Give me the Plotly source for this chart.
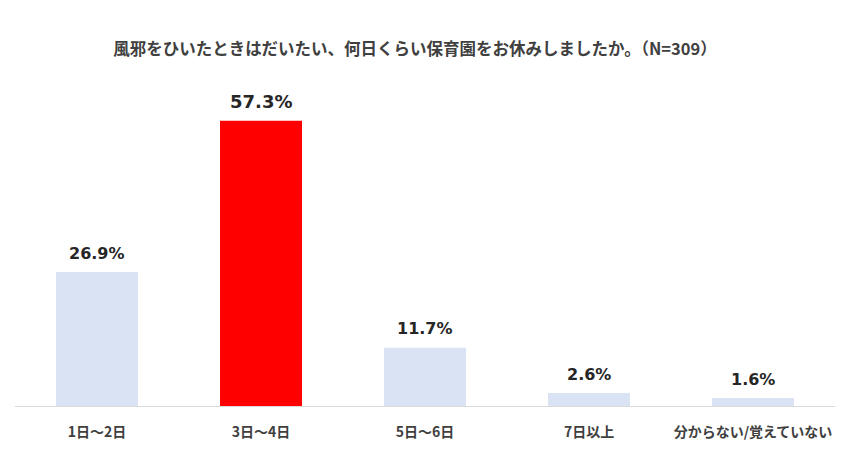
import plotly.graph_objects as go

categories = ["1日～2日", "3日～4日", "5日～6日", "7日以上", "分からない/覚えていない"]
values = [26.9, 57.3, 11.7, 2.6, 1.6]
highlight = "3日～4日"

light = "#dae3f3"
red = "#ff0000"
text_color = "#404040"
font_family = "DejaVu Sans, Noto Sans CJK JP, sans-serif"
jp_font = "Noto Sans CJK JP, sans-serif"

colors = [red if c == highlight else light for c in categories]

fig = go.Figure()
fig.add_trace(
    go.Bar(
        x=categories,
        y=values,
        marker=dict(color=colors, line=dict(width=0)),
        width=0.5,
        hoverinfo="x+y",
    )
)

# value labels above bars
for c, v in zip(categories, values):
    fig.add_annotation(
        x=c, y=v,
        text=f"<b>{v:.1f}%</b>",
        showarrow=False,
        yanchor="middle",
        yshift=19,
        font=dict(size=18 if c == highlight else 16, color="#262626", family=font_family),
    )

fig.update_layout(
    width=850,
    height=450,
    margin=dict(l=7, r=23, t=72, b=52),
    plot_bgcolor="white",
    paper_bgcolor="white",
    showlegend=False,
    title=dict(
        text="<b>風邪をひいたときはだいたい、何日くらい保育園をお休みしましたか。（N=309）</b>",
        x=407 / 850, xanchor="center",
        y=1 - 41 / 450, yref="container", yanchor="middle",
        font=dict(size=16.5, color=text_color, family=jp_font),
    ),
)
fig.update_xaxes(
    showline=True,
    linecolor="#d9d9d9",
    linewidth=1,
    showgrid=False,
    ticks="",
    ticklabelstandoff=13,
    tickfont=dict(size=14, color=text_color, family=jp_font, weight="bold"),
)
fig.update_yaxes(
    range=[0, 65.5],
    showgrid=False,
    zeroline=False,
    showticklabels=False,
    showline=False,
)

fig.write_html("out.html")
